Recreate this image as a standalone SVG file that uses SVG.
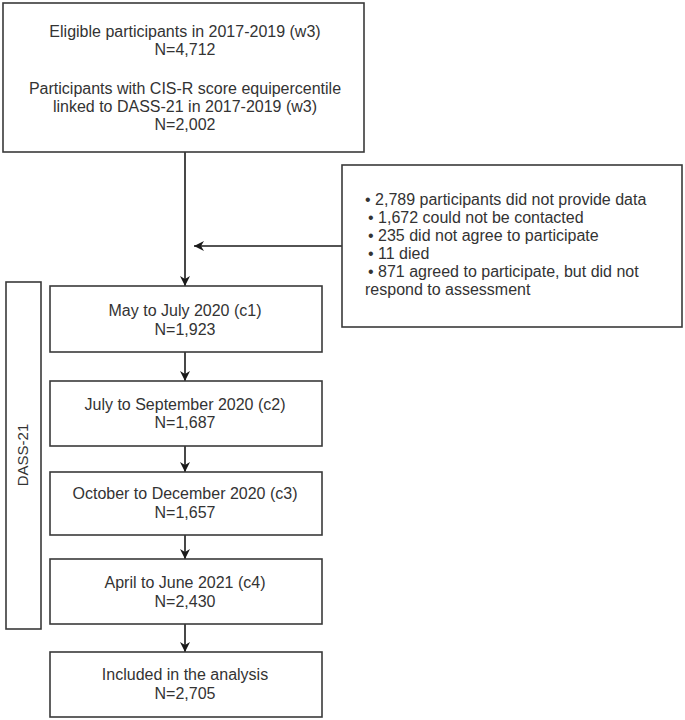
<svg xmlns="http://www.w3.org/2000/svg" width="685" height="720" viewBox="0 0 685 720">
<defs>
<style>
.box{fill:#fff;stroke:#3a3a3a;stroke-width:1.6}
.t{font-family:"Liberation Sans",Arial,sans-serif;font-size:16px;fill:#333;text-anchor:middle}
.l{font-family:"Liberation Sans",Arial,sans-serif;font-size:16px;fill:#333}
.c{stroke:#1a1a1a;stroke-width:1.6;fill:none}
</style>
<marker id="ah" viewBox="0 0 10 10" refX="10" refY="5" markerWidth="10" markerHeight="10" markerUnits="userSpaceOnUse" orient="auto">
<path d="M0,0 L10,5 L0,10 L3,5 Z" fill="#1a1a1a"/>
</marker>
</defs>
<rect width="685" height="720" fill="#fff"/>
<g id="connectors">
<line class="c" x1="185" y1="152" x2="185" y2="286" marker-end="url(#ah)"/>
<line class="c" x1="342" y1="246" x2="194" y2="246" marker-end="url(#ah)"/>
<line class="c" x1="185" y1="352" x2="185" y2="381" marker-end="url(#ah)"/>
<line class="c" x1="185" y1="446" x2="185" y2="472" marker-end="url(#ah)"/>
<line class="c" x1="185" y1="535" x2="185" y2="559" marker-end="url(#ah)"/>
<line class="c" x1="185" y1="624" x2="185" y2="652" marker-end="url(#ah)"/>
</g>
<g id="n_w3">
<rect class="box" x="3" y="3" width="361" height="149"/>
<text class="t" x="185" y="37">Eligible participants in 2017-2019 (w3)</text>
<text class="t" x="185" y="55">N=4,712</text>
<text class="t" x="185" y="94">Participants with CIS-R score equipercentile</text>
<text class="t" x="185" y="112">linked to DASS-21 in 2017-2019 (w3)</text>
<text class="t" x="185" y="130">N=2,002</text>
</g>
<g id="n_excluded">
<rect class="box" x="342" y="165" width="340" height="162"/>
<text class="l" x="365" y="205">• 2,789 participants did not provide data</text>
<text class="l" x="368" y="223">• 1,672 could not be contacted</text>
<text class="l" x="368" y="241">• 235 did not agree to participate</text>
<text class="l" x="368" y="259">• 11 died</text>
<text class="l" x="368" y="277">• 871 agreed to participate, but did not</text>
<text class="l" x="365" y="295">respond to assessment</text>
</g>
<g id="n_dass">
<rect class="box" x="6" y="282" width="35" height="347"/>
<text class="t" style="font-size:15px" transform="translate(28,455) rotate(-90)">DASS-21</text>
</g>
<g id="n_c1">
<rect class="box" x="50" y="286" width="272" height="66"/>
<text class="t" x="185" y="316">May to July 2020 (c1)</text>
<text class="t" x="185" y="335">N=1,923</text>
</g>
<g id="n_c2">
<rect class="box" x="50" y="381" width="272" height="65"/>
<text class="t" x="185" y="410">July to September 2020 (c2)</text>
<text class="t" x="185" y="428">N=1,687</text>
</g>
<g id="n_c3">
<rect class="box" x="50" y="472" width="272" height="63"/>
<text class="t" x="185" y="499">October to December 2020 (c3)</text>
<text class="t" x="185" y="518">N=1,657</text>
</g>
<g id="n_c4">
<rect class="box" x="50" y="559" width="272" height="65"/>
<text class="t" x="185" y="588">April to June 2021 (c4)</text>
<text class="t" x="185" y="607">N=2,430</text>
</g>
<g id="n_included">
<rect class="box" x="50" y="652" width="272" height="65"/>
<text class="t" x="185" y="680">Included in the analysis</text>
<text class="t" x="185" y="699">N=2,705</text>
</g>
</svg>
